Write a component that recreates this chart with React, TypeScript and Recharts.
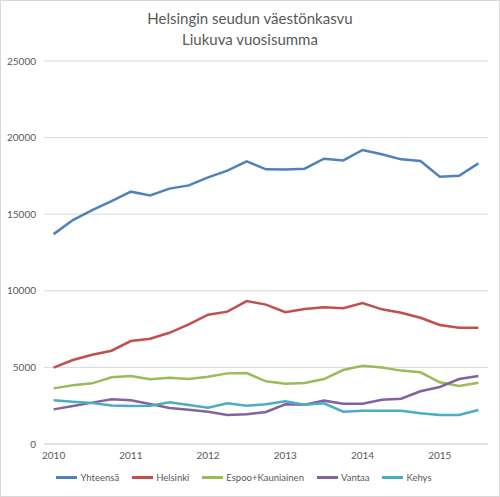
import React from 'react';
import { LineChart, Line, XAxis, YAxis, CartesianGrid, Legend } from 'recharts';

// Quarterly periods, 2010 Q1 .. 2015 Q3
const periods = [
  '2010 Q1', '2010 Q2', '2010 Q3', '2010 Q4',
  '2011 Q1', '2011 Q2', '2011 Q3', '2011 Q4',
  '2012 Q1', '2012 Q2', '2012 Q3', '2012 Q4',
  '2013 Q1', '2013 Q2', '2013 Q3', '2013 Q4',
  '2014 Q1', '2014 Q2', '2014 Q3', '2014 Q4',
  '2015 Q1', '2015 Q2', '2015 Q3',
];

const yhteensa = [
  13700, 14620, 15270, 15860, 16470, 16230, 16670, 16880, 17400, 17840, 18450, 17930,
  17910, 17970, 18620, 18510, 19190, 18910, 18580, 18470, 17450, 17510, 18320,
];
const helsinki = [
  4980, 5480, 5830, 6090, 6720, 6870, 7260, 7810, 8440, 8640, 9330, 9100,
  8600, 8810, 8920, 8860, 9200, 8790, 8570, 8240, 7770, 7590, 7590,
];
const espoo = [
  3630, 3830, 3960, 4350, 4440, 4220, 4330, 4240, 4390, 4610, 4630, 4090,
  3940, 3980, 4240, 4830, 5110, 5000, 4790, 4680, 4030, 3790, 4000,
];
const vantaa = [
  2260, 2480, 2700, 2920, 2850, 2610, 2350, 2240, 2110, 1890, 1940, 2090,
  2590, 2570, 2830, 2630, 2630, 2890, 2960, 3440, 3720, 4240, 4440,
];
const kehys = [
  2850, 2760, 2680, 2520, 2480, 2500, 2720, 2550, 2370, 2660, 2500, 2590,
  2790, 2570, 2660, 2110, 2170, 2170, 2170, 2000, 1890, 1890, 2220,
];

const yTicks = [0, 5000, 10000, 15000, 20000, 25000];

const series = [
  { key: 'Yhteensä', values: yhteensa, color: '#4f81bd' },
  { key: 'Helsinki', values: helsinki, color: '#c0504d' },
  { key: 'Espoo+Kauniainen', values: espoo, color: '#9bbb59' },
  { key: 'Vantaa', values: vantaa, color: '#8064a2' },
  { key: 'Kehys', values: kehys, color: '#4bacc6' },
];

const data = periods.map((p, i) => {
  const row: Record<string, string | number> = { period: p };
  series.forEach(s => {
    row[s.key] = s.values[i];
  });
  return row;
});

const FONT = 'Lato, "Open Sans", sans-serif';
const TEXT = '#595959';

function LegendRow() {
  return (
    <div style={{ display: 'flex', justifyContent: 'center', gap: 13, fontFamily: FONT, fontSize: 9.5, color: TEXT }}>
      {series.map(s => (
        <div key={s.key} style={{ display: 'flex', alignItems: 'center' }}>
          <div style={{ width: 21, height: 3, background: s.color, marginRight: 3 }} />
          <span>{s.key}</span>
        </div>
      ))}
    </div>
  );
}

export default function App() {
  return (
    <div
      style={{
        position: 'absolute',
        left: 0,
        top: 0,
        width: 500,
        height: 497,
        boxSizing: 'border-box',
        border: '1px solid #d9d9d9',
        background: '#fff',
        fontFamily: FONT,
      }}
    >
      <div
        style={{
          position: 'absolute',
          top: 7,
          left: 0,
          width: '100%',
          textAlign: 'center',
          color: TEXT,
          fontSize: 15,
          lineHeight: '21px',
        }}
      >
        <div>Helsingin seudun väestönkasvu</div>
        <div>Liukuva vuosisumma</div>
      </div>
      <div style={{ position: 'absolute', left: -1, top: -1 }}>
        <LineChart width={500} height={497} data={data} margin={{ top: 61, right: 12, bottom: 0, left: 0 }}>
          <CartesianGrid vertical={false} stroke="#d9d9d9" />
          <XAxis
            dataKey="period"
            interval={3}
            tickFormatter={(v: string) => v.slice(0, 4)}
            tickLine={false}
            axisLine={{ stroke: '#d9d9d9' }}
            padding={{ left: 9.6, right: 9.6 }}
            tick={{ fontSize: 10, fill: TEXT, fontFamily: FONT }}
            height={28}
          />
          <YAxis
            ticks={yTicks}
            domain={[0, 25000]}
            width={44}
            tickLine={false}
            axisLine={false}
            tick={{ fontSize: 10, fill: TEXT, fontFamily: FONT }}
          />
          <Legend verticalAlign="bottom" height={25} content={() => <LegendRow />} />
          {series.map(s => (
            <Line
              key={s.key}
              type="linear"
              dataKey={s.key}
              stroke={s.color}
              strokeWidth={2.5}
              dot={false}
              isAnimationActive={false}
            />
          ))}
        </LineChart>
      </div>
    </div>
  );
}
